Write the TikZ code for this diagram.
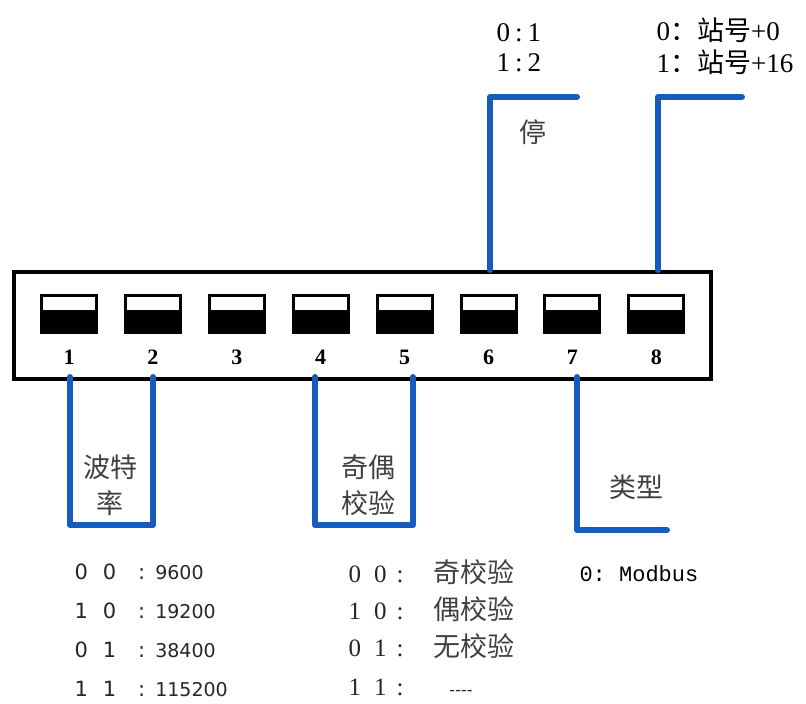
\documentclass[tikz,border=0pt]{standalone}
\usepackage{fontspec}
\setmainfont{Liberation Serif}
\newfontfamily\zhfont{Noto Sans CJK SC}
\newfontfamily\tabfont{DejaVu Sans}
\newfontfamily\modfont{Liberation Mono}

\definecolor{leadblue}{RGB}{22,92,190}

\tikzset{
	switch/.style = {fill = black, minimum width = 58pt, minimum height = 40pt, inner sep = 0pt,
		path picture = {\fill[white] ([xshift = 3pt, yshift = -3pt]path picture bounding box.north west)
			rectangle ([xshift = -3pt, yshift = -16pt]path picture bounding box.north east);}},
	num/.style = {font = \bfseries\fontsize{22}{22}\selectfont},
	lead/.style = {leadblue, line width = 6pt, line cap = round, line join = round},
	zh/.style = {font = \zhfont\fontsize{27}{36}\selectfont, text = black!75, align = center},
	top/.style = {anchor = west, font = \fontsize{27}{27}\selectfont},
	baud/.style = {anchor = west, font = \tabfont\fontsize{21}{21}\selectfont, text = black!85},
	parity/.style = {anchor = west, font = \fontsize{25}{25}\selectfont, text = black!85}
}

\begin{document}
\begin{tikzpicture}[x = 1pt, y = -1pt]
	\useasboundingbox (0,0) rectangle (806,704);
	
	% housing
	\node[draw, line width = 3.5pt, minimum width = 697pt, minimum height = 107pt,
		inner sep = 0pt, anchor = north west] (box) at (12,270) {};
	
	\foreach \i in {1,...,8}{
		\node[switch] (s\i) at ({69+83.9*(\i-1)}, 314) {};
		\node[num] (n\i) at ({69+83.9*(\i-1)}, 357) {\i};
	}
	
	% leads
	\coordinate (p1) at (70,377);
	\coordinate (p2) at (153,377);
	\coordinate (p4) at (315,377);
	\coordinate (p5) at (413,377);
	\coordinate (p6) at (490,270);
	\coordinate (p7) at (577,377);
	\coordinate (p8) at (658,270);
	
	\draw[lead] (p1) -- ++(0,148) -| (p2);
	\draw[lead] (p4) -- ++(0,148) -| (p5);
	\draw[lead] (p7) -- ++(0,153) -- ++(90,0);
	\draw[lead] (p6) -- ++(0,-173) -- ++(87,0);
	\draw[lead] (p8) -- ++(0,-173) -- ++(84,0);
	
	% labels
	\node[top] (stopa) at (493,33) {0\hspace{5pt}:\hspace{5pt}1};
	\node[top] (stopb) at (493,63) {1\hspace{5pt}:\hspace{5pt}2};
	\node[zh] (stop) at (533,132) {停};
	
	\node[top] (ida) at (653,30) {0{\zhfont ：站号}+0};
	\node[top] (idb) at (653,62) {1{\zhfont ：站号}+16};
	
	\node[zh] (baudrate) at (110,485) {波特\\率};
	\node[zh] (checkmode) at (368,485) {奇偶\\校验};
	\node[zh] (devtype) at (636,487) {类型};
	
	% baud table
	\node[baud] (b00) at (71,572) {0\hspace{15pt}0\hspace{22pt}:\hspace{10pt}{\fontsize{19}{19}\selectfont 9600}};
	\node[baud] (b10) at (71,611) {1\hspace{15pt}0\hspace{22pt}:\hspace{10pt}{\fontsize{19}{19}\selectfont 19200}};
	\node[baud] (b01) at (71,650) {0\hspace{15pt}1\hspace{22pt}:\hspace{10pt}{\fontsize{19}{19}\selectfont 38400}};
	\node[baud] (b11) at (71,689) {1\hspace{15pt}1\hspace{22pt}:\hspace{10pt}{\fontsize{19}{19}\selectfont 115200}};
	
	% parity table
	\node[parity] (c00) at (345,572) {0\hspace{13pt}0\hspace{10pt}:\hspace{30pt}{\zhfont\fontsize{27}{27}\selectfont\color{black!75}奇校验}};
	\node[parity] (c10) at (345,609) {1\hspace{13pt}0\hspace{10pt}:\hspace{30pt}{\zhfont\fontsize{27}{27}\selectfont\color{black!75}偶校验}};
	\node[parity] (c01) at (345,646) {0\hspace{13pt}1\hspace{10pt}:\hspace{30pt}{\zhfont\fontsize{27}{27}\selectfont\color{black!75}无校验}};
	\node[parity] (c11) at (345,687) {1\hspace{13pt}1\hspace{10pt}:\hspace{46pt}{\tabfont\fontsize{16}{16}\selectfont ----}};
	
	\node[anchor = west, font = \modfont\fontsize{22}{22}\selectfont] (mode) at (576,574) {0:~Modbus};
\end{tikzpicture}
\end{document}
